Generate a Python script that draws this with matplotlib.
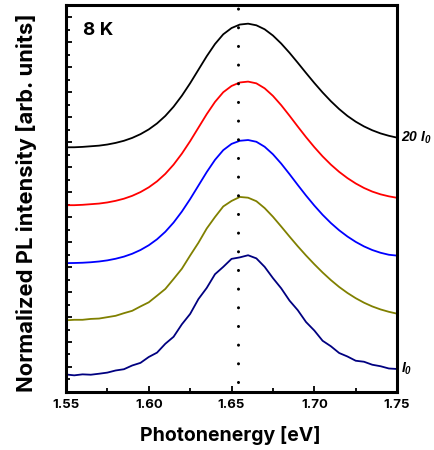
import matplotlib
matplotlib.use("Agg")
import matplotlib.pyplot as plt
from matplotlib.ticker import MultipleLocator, NullFormatter

plt.rcParams['font.family'] = ['Inter', 'Liberation Sans', 'DejaVu Sans']
plt.rcParams['font.weight'] = 'bold'
plt.rcParams['mathtext.fontset'] = 'custom'
plt.rcParams['mathtext.it'] = 'Liberation Sans:bold:italic'
plt.rcParams['mathtext.rm'] = 'Liberation Sans:bold:italic'

# photon energy grid (eV)
energy = [1.550, 1.555, 1.560, 1.565, 1.570, 1.575, 1.580, 1.585, 1.590, 1.595,
          1.600, 1.605, 1.610, 1.615, 1.620, 1.625, 1.630, 1.635, 1.640, 1.645,
          1.650, 1.655, 1.660, 1.665, 1.670, 1.675, 1.680, 1.685, 1.690, 1.695,
          1.700, 1.705, 1.710, 1.715, 1.720, 1.725, 1.730, 1.735, 1.740, 1.745,
          1.750]

# stacked PL spectra (arb. units, offset as in the figure), top = 20 I0, bottom = I0
pl_20 = [19.60, 19.60, 19.63, 19.68, 19.73, 19.82, 19.95, 20.12, 20.35, 20.65,
         21.03, 21.51, 22.11, 22.85, 23.73, 24.73, 25.81, 26.89, 27.87, 28.65,
         29.15, 29.43, 29.50, 29.37, 29.05, 28.55, 27.91, 27.17, 26.37, 25.55,
         24.75, 23.99, 23.29, 22.66, 22.11, 21.65, 21.27, 20.96, 20.71, 20.52,
         20.37]
pl_red = [14.96, 14.96, 14.99, 15.04, 15.09, 15.18, 15.31, 15.48, 15.71, 16.01,
          16.39, 16.87, 17.47, 18.21, 19.09, 20.09, 21.17, 22.25, 23.23, 24.01,
          24.51, 24.79, 24.86, 24.72, 24.32, 23.72, 22.97, 22.13, 21.26, 20.41,
          19.61, 18.87, 18.21, 17.63, 17.13, 16.70, 16.34, 16.05, 15.83, 15.67,
          15.55]
pl_blue = [10.32, 10.33, 10.35, 10.39, 10.45, 10.54, 10.67, 10.84, 11.07, 11.37,
           11.75, 12.23, 12.83, 13.57, 14.45, 15.45, 16.53, 17.61, 18.59, 19.37,
           19.87, 20.12, 20.18, 20.04, 19.64, 19.04, 18.29, 17.45, 16.58, 15.73,
           14.93, 14.19, 13.53, 12.95, 12.45, 12.02, 11.66, 11.37, 11.15, 10.99,
           10.92]
pl_olive = [5.74, 5.78, 5.78, 5.85, 5.88, 5.99, 6.10, 6.31, 6.50, 6.85,
            7.18, 7.71, 8.25, 9.05, 9.87, 10.93, 11.95, 13.09, 14.01, 14.86,
            15.30, 15.62, 15.56, 15.28, 14.73, 14.03, 13.25, 12.45, 11.67, 10.93,
            10.23, 9.57, 8.96, 8.41, 7.93, 7.51, 7.15, 6.85, 6.61, 6.42,
            6.27]
pl_1 = [1.40, 1.33, 1.41, 1.38, 1.46, 1.55, 1.72, 1.82, 2.12, 2.33,
        2.80, 3.15, 3.86, 4.42, 5.42, 6.25, 7.44, 8.33, 9.43, 10.02,
        10.66, 10.78, 10.95, 10.70, 10.02, 9.12, 8.30, 7.32, 6.55, 5.60,
        4.92, 4.10, 3.66, 3.12, 2.84, 2.50, 2.42, 2.18, 2.06, 1.88,
        1.84]

spectra = [pl_20, pl_red, pl_blue, pl_olive, pl_1]
colors = ['black', '#ff0000', '#0000ff', '#808000', '#000080']

peak_energy = 1.654

fig = plt.figure(figsize=(4.34, 4.5), dpi=100)
ax = fig.add_axes([0.152, 0.129, 0.763, 0.860])

for spec, col in zip(spectra, colors):
    ax.plot(energy, spec, color=col, lw=1.3)

# dotted guide at the peak position
ax.plot([peak_energy, peak_energy], [0.8, 31], color='black', lw=2.2,
        linestyle=(0, (0.01, 6.1)), dash_capstyle='round')

ax.set_xlim(1.55, 1.75)
ax.set_ylim(0, 31)

ax.xaxis.set_major_locator(MultipleLocator(0.05))
ax.xaxis.set_minor_locator(MultipleLocator(0.025))
ax.yaxis.set_major_locator(MultipleLocator(2))
ax.yaxis.set_minor_locator(MultipleLocator(1))
ax.xaxis.set_major_formatter(plt.FormatStrFormatter('%.2f'))
ax.yaxis.set_major_formatter(NullFormatter())

ax.tick_params(axis='both', which='both', direction='in', top=False, right=False)
ax.tick_params(axis='x', which='major', length=4.5, width=1.3, labelsize=9.5, pad=5)
ax.tick_params(axis='x', which='minor', length=2.8, width=1.3)
ax.tick_params(axis='y', which='major', length=4, width=1.3)
ax.tick_params(axis='y', which='minor', length=3, width=1.3)
for lab in ax.get_xticklabels():
    lab.set_fontweight('bold')

for s in ax.spines.values():
    s.set_linewidth(2.2)

ax.set_xlabel('Photonenergy [eV]', fontsize=14, fontweight='bold')
ax.xaxis.set_label_coords(0.495, -0.088)
ax.set_ylabel('Normalized PL intensity [arb. units]', fontsize=15.8, fontweight='bold')
ax.yaxis.set_label_coords(-0.088, 0.49)

ax.text(0.05, 0.935, '8 K', transform=ax.transAxes, fontsize=13.5,
        fontweight='bold', va='center')
ax.text(1.012, pl_20[-1], r'20 $I_0$', transform=ax.get_yaxis_transform(),
        fontsize=10, fontweight='bold', style='italic', va='center',
        family='Liberation Sans', clip_on=False)
ax.text(1.012, pl_1[-1], r'$I_0$', transform=ax.get_yaxis_transform(),
        fontsize=10, fontweight='bold', style='italic', va='center',
        family='Liberation Sans', clip_on=False)

fig.savefig('out.png', dpi=100)
